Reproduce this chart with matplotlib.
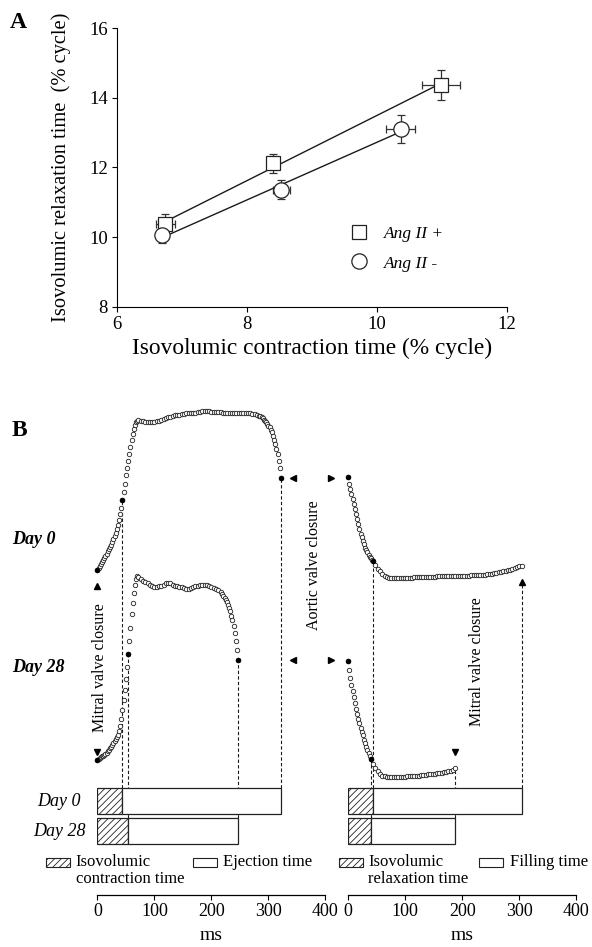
import matplotlib
matplotlib.use('Agg')
import matplotlib.pyplot as plt
from matplotlib.lines import Line2D
from matplotlib.patches import Rectangle
import numpy as np

plt.rcParams['font.family'] = ['Liberation Serif', 'DejaVu Serif']
plt.rcParams['hatch.linewidth'] = 0.6
plt.rcParams['hatch.color'] = '#222222'

# ---------------- panel A data (% cycle) ----------------
sq_x = [6.75, 8.40, 10.99]          # Ang II +
sq_y = [10.37, 12.12, 14.37]
sq_xerr = [0.15, 0.05, 0.29]
sq_yerr = [0.28, 0.27, 0.42]
ci_x = [6.70, 8.53, 10.37]          # Ang II -
ci_y = [10.06, 11.36, 13.10]
ci_xerr = [0.06, 0.13, 0.22]
ci_yerr = [0.24, 0.27, 0.41]

# ---------------- panel B data (ms, mmHg) ----------------
# day 0, contraction / ejection
t0L = [*range(0, 73, 2), *range(76, 285, 4), *range(286, 323, 2)]
p0L = [7.9, 9.5, 11.0, 12.4, 13.8, 15.2, 16.6, 18.1, 19.6, 21.2,
       22.8, 24.4, 26.0, 28.0, 30.0, 32.2, 34.6, 37.2, 40.2, 43.6,
       47.6, 52.2, 57.5, 63.6, 69.5, 75.4, 81.0, 85.9, 90.6, 95.8,
       100.6, 105.0, 108.6, 111.4, 113.4, 114.6, 115.0,
       114.6, 114.2, 113.9, 113.8, 113.8, 113.8, 113.9, 114.0, 114.5, 115.0,
       115.8, 116.4, 116.9, 117.4, 117.9, 118.3, 118.6, 118.9, 119.2, 119.5,
       119.8, 119.9, 120.0, 120.1, 120.2, 120.4, 120.8, 121.2, 121.3, 121.2,
       121.2, 121.0, 120.9, 120.7, 120.5, 120.4, 120.2, 120.2, 120.3, 120.2,
       120.2, 120.1, 120.2, 120.2, 120.1, 120.0, 120.0, 119.9, 119.8, 119.6,
       119.2, 118.8, 118.2,
       117.5, 116.9, 116.2, 115.3, 114.4, 113.4, 112.3, 111.0, 109.8, 108.2,
       106.4, 103.8, 101.0, 98.0, 94.5, 90.5, 86.0, 80.5, 73.5]
# day 28, contraction / ejection
t28L = [*range(0, 73, 2), *range(76, 217, 4), *range(219, 248, 2)]
p28L = [14.3, 15.0, 15.7, 16.2, 16.8, 17.3, 17.9, 18.7, 19.6, 20.5,
        21.4, 22.6, 23.9, 25.1, 26.4, 27.8, 29.3, 30.9, 32.5, 35.0,
        38.6, 43.6, 50.0, 57.1, 64.3, 72.1, 80.7, 90.0, 99.3, 108.8,
        118.6, 126.2, 133.4, 139.3, 143.4, 145.7, 145.2,
        143.9, 142.5, 141.4, 140.5, 139.6, 138.9, 138.2, 138.2, 138.6, 138.9,
        139.6, 140.5, 140.9, 140.4, 139.6, 138.9, 138.6, 138.2, 137.9, 137.0,
        136.2, 136.6, 137.5, 138.2, 138.6, 138.9, 139.1, 139.3, 139.3, 139.1,
        138.7, 138.2, 137.5, 136.4, 135.4, 134.0,
        132.9, 131.6, 130.1, 128.6, 126.8, 125.0, 122.9, 120.4, 117.5, 114.3,
        110.0, 105.0, 99.3, 92.9, 85.7]
# day 0, relaxation / filling
t0R = [*range(0, 45, 2), *range(48, 305, 4)]
p0R = [74.1, 69.3, 65.7, 62.1, 58.6, 55.0, 51.4, 47.9, 44.3, 40.7,
       37.1, 33.9, 31.1, 28.6, 26.1, 23.9, 22.1, 20.4, 18.9, 17.5,
       16.2, 15.1, 14.3,
       11.4, 8.9, 6.8, 5.0, 3.6, 2.6, 2.1, 1.9, 1.9, 1.9,
       2.0, 2.1, 2.3, 2.4, 2.4, 2.5, 2.5, 2.6, 2.7, 2.8,
       2.8, 2.9, 3.0, 3.0, 3.1, 3.1, 3.2, 3.3, 3.3, 3.4,
       3.4, 3.5, 3.5, 3.6, 3.6, 3.7, 3.7, 3.8, 3.8, 3.8,
       3.9, 3.9, 4.0, 4.0, 4.1, 4.2, 4.3, 4.4, 4.6, 4.8,
       5.0, 5.3, 5.6, 5.9, 6.2, 6.5, 6.8, 7.2, 7.7, 8.2,
       8.8, 9.4, 10.0, 10.6, 11.0]
# day 28, relaxation / filling
t28R = [*range(0, 41, 2), *range(44, 189, 4)]
p28R = [85.2, 78.6, 72.9, 67.9, 63.6, 59.3, 55.0, 50.7, 47.1, 43.6,
        40.4, 37.5, 34.6, 31.8, 28.9, 26.4, 23.9, 21.4, 19.3, 17.1,
        15.0,
        11.4, 8.4, 6.1, 4.3, 3.2, 2.6, 2.4, 2.4, 2.4, 2.4,
        2.4, 2.4, 2.4, 2.5, 2.5, 2.6, 2.7, 2.8, 2.9, 3.0,
        3.2, 3.5, 3.7, 3.9, 4.1, 4.2, 4.4, 4.6, 4.9, 5.1,
        5.3, 5.6, 5.9, 6.3, 6.7, 7.3, 8.4]

# valve events (ms): [day 0, day 28]
ivct = [44, 54]          # isovolumic contraction time
eject_end = [322, 247]   # aortic valve closure
ivrt = [44, 40]          # isovolumic relaxation time
fill_end = [304, 188]    # mitral valve closure

W, H = 592, 947
def fx(px):
    return px / W
def fy(py):
    return 1 - py / H

fig = plt.figure(figsize=(W / 100, H / 100), dpi=100)
ink = '#1a1a1a'

# ================= panel A =================
axA = fig.add_axes([fx(116.7), fy(306.7), 390 / W, 278.4 / H])
for xs, ys in ((sq_x, sq_y), (ci_x, ci_y)):
    k, b = np.polyfit(xs, ys, 1)
    xx = np.array([min(xs), max(xs)])
    axA.plot(xx, k * xx + b, color=ink, lw=1.0, zorder=2)
eb = dict(ecolor='#333333', elinewidth=0.9, capsize=2.6, capthick=0.9,
          mfc='white', mec='#222222', mew=0.9, ls='none', zorder=3)
axA.errorbar(sq_x, sq_y, xerr=sq_xerr, yerr=sq_yerr, fmt='s', ms=10, **eb)
axA.errorbar(ci_x, ci_y, xerr=ci_xerr, yerr=ci_yerr, fmt='o', ms=11, **eb)
axA.set_xlim(6, 12)
axA.set_ylim(8, 16)
axA.set_xticks([6, 8, 10, 12])
axA.set_yticks([8, 10, 12, 14, 16])
for s in ('top', 'right'):
    axA.spines[s].set_visible(False)
for s in ('left', 'bottom'):
    axA.spines[s].set_linewidth(0.8)
axA.tick_params(length=3.5, width=0.8, labelsize=13.5, pad=3)
axA.set_xlabel('Isovolumic contraction time (% cycle)', fontsize=16.8, labelpad=4)
axA.set_ylabel('Isovolumic relaxation time  (% cycle)', fontsize=14.8, labelpad=13)
handles = [Line2D([], [], marker='s', ls='none', ms=10, mfc='white', mec='#222222', mew=0.9),
           Line2D([], [], marker='o', ls='none', ms=11, mfc='white', mec='#222222', mew=0.9)]
axA.legend(handles, ['Ang II +', 'Ang II -'], loc='upper left', bbox_to_anchor=(0.60, 0.289),
           frameon=False, prop={'style': 'italic', 'size': 12.5}, handlelength=1.0,
           handletextpad=0.9, labelspacing=0.75, borderpad=0, borderaxespad=0)
fig.text(fx(10), fy(23), 'A', fontsize=17, fontweight='bold', va='center')

# ================= panel B =================
PX = 1.4                        # pixels per mmHg
bot_px, top_px = 895, 400
base = [(bot_px - 581) / PX, (bot_px - 780) / PX]
bar_y = [(bot_px - 801) / PX, (bot_px - 831) / PX]
bar_h = 26 / PX
bar_top = [y + bar_h / 2 for y in bar_y]

axL = fig.add_axes([fx(97.4), fy(bot_px), 228 / W, (bot_px - top_px) / H])
axR = fig.add_axes([fx(348), fy(bot_px), 228.4 / W, (bot_px - top_px) / H])

def trace(ax, t, p, b, filled):
    t = np.asarray(t)
    y = b + np.asarray(p)
    ax.plot(t, y, 'o', ms=3.2, mfc='white', mec='#222222', mew=0.6, zorder=4, clip_on=False)
    m = np.isin(t, filled)
    ax.plot(t[m], y[m], 'o', ms=3.4, mfc='black', mec='black', mew=0.5, zorder=5, clip_on=False)
    return dict(zip(t.tolist(), y.tolist()))

y0L = trace(axL, t0L, p0L, base[0], [0, ivct[0], eject_end[0]])
y28L = trace(axL, t28L, p28L, base[1], [0, ivct[1], eject_end[1]])
y0R = trace(axR, t0R, p0R, base[0], [0, ivrt[0]])
y28R = trace(axR, t28R, p28R, base[1], [0, ivrt[1]])

dash = dict(colors=ink, lw=0.8, linestyles=(0, (3, 2)), zorder=1)
for i, yl in enumerate((y0L, y28L)):
    axL.vlines([ivct[i], eject_end[i]], bar_top[i], [yl[ivct[i]], yl[eject_end[i]]], **dash)
arrow_gap = 16.5 / PX
axR.vlines(ivrt[0], bar_top[0], y0R[ivrt[0]], **dash)
axR.vlines(fill_end[0], bar_top[0], y0R[fill_end[0]] - arrow_gap, **dash)
axR.vlines(ivrt[1], bar_top[1], y28R[ivrt[1]], **dash)
axR.vlines(fill_end[1], bar_top[1], y28R[fill_end[1]], **dash)

tri = dict(color='black', ms=5, ls='none', clip_on=False, zorder=6)
axL.plot([0], [y0L[0] - arrow_gap], marker='^', **tri)
axL.plot([0], [y28L[0] + 7.5 / PX], marker='v', **tri)
axR.plot([fill_end[0]], [y0R[fill_end[0]] - arrow_gap], marker='^', **tri)
axR.plot([fill_end[1]], [y28R[fill_end[1]] + arrow_gap], marker='v', **tri)
for yl in (y0L[eject_end[0]], y28L[eject_end[1]]):
    axL.plot([344], [yl], marker='<', **tri)
    axR.plot([-29], [yl], marker='>', **tri)

for ax, iso, end in ((axL, ivct, eject_end), (axR, ivrt, fill_end)):
    ax.barh(bar_y, iso, height=bar_h, color='white', edgecolor='#222222',
            hatch='/////', lw=0.9, zorder=3)
    ax.barh(bar_y, np.subtract(end, iso), left=iso, height=bar_h, color='white',
            edgecolor='#222222', lw=0.9, zorder=3)
    ax.set_xlim(0, 400)
    ax.set_ylim(0, (bot_px - top_px) / PX)
    ax.set_xticks([0, 100, 200, 300, 400])
    ax.set_yticks([])
    for s in ('top', 'right', 'left'):
        ax.spines[s].set_visible(False)
    ax.spines['bottom'].set_linewidth(0.9)
    ax.tick_params(axis='x', length=3.5, width=0.8, labelsize=13, pad=2)
    ax.set_xlabel('ms', fontsize=14, labelpad=5)
    ax.patch.set_visible(False)

fig.text(fx(12), fy(430), 'B', fontsize=17, fontweight='bold', va='center')
fig.text(fx(12), fy(539), 'Day 0', fontsize=13, fontweight='bold', style='italic', va='center')
fig.text(fx(12), fy(668), 'Day 28', fontsize=13, fontweight='bold', style='italic', va='center')
fig.text(fx(59), fy(801), 'Day 0', fontsize=13, style='italic', ha='center', va='center')
fig.text(fx(59), fy(831), 'Day 28', fontsize=13, style='italic', ha='center', va='center')

vt = dict(rotation=90, ha='center', va='center', fontsize=11.5)
fig.text(fx(314), fy(565), 'Aortic valve closure', **vt)
fig.text(fx(99.5), fy(668), 'Mitral valve closure', **vt)
fig.text(fx(477), fy(662), 'Mitral valve closure', **vt)

# legend row under the bars
leg_items = [(46, True, 'Isovolumic', 'contraction time', 75.5),
             (192.5, False, 'Ejection time', None, 222.6),
             (338.5, True, 'Isovolumic', 'relaxation time', 368),
             (479, False, 'Filling time', None, 509.5)]
for x0, hatched, l1, l2, tx in leg_items:
    fig.add_artist(Rectangle((fx(x0), fy(866.5)), 24 / W, 8.5 / H, transform=fig.transFigure,
                             facecolor='white', edgecolor='#222222', lw=0.8,
                             hatch='/////' if hatched else None))
    fig.text(fx(tx), fy(862), l1, fontsize=12, va='center')
    if l2:
        fig.text(fx(tx), fy(879), l2, fontsize=12, va='center')

fig.savefig('out.png', dpi=100)
